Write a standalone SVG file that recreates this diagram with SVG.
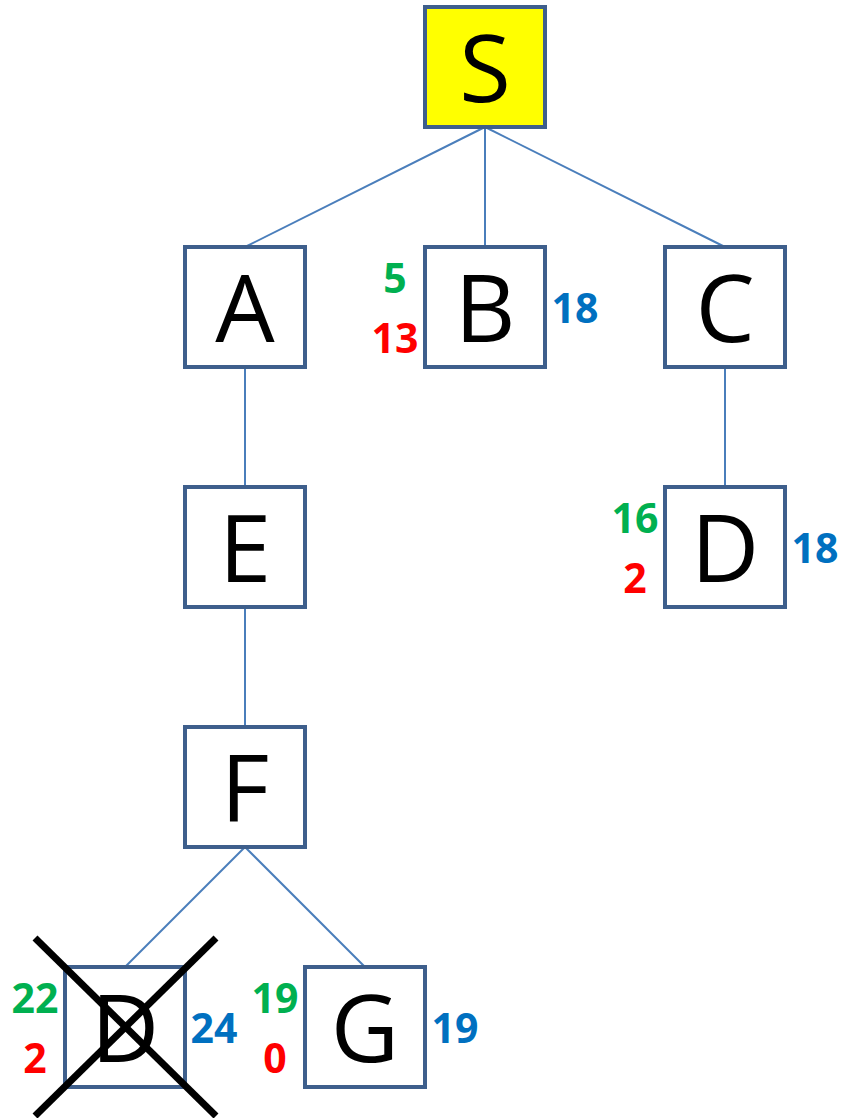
<svg xmlns="http://www.w3.org/2000/svg" width="841" height="1118" viewBox="0 0 841 1118">
<style>
.box{fill:#FFFFFF;stroke:#3E5F8C;stroke-width:4}
.start{fill:#FFFF00}
.big{font-family:"Open Sans","Liberation Sans",sans-serif;font-size:94px;fill:#000;text-anchor:middle}
.num{font-family:"Open Sans","Liberation Sans",sans-serif;font-weight:bold;font-size:41px;text-anchor:middle}
.g{fill:#00B050}.r{fill:#FF0000}.b{fill:#0070C0}
.edge{stroke:#4A7EBB;stroke-width:2;fill:none}
.cross{stroke:#000;stroke-width:7}
</style>
<rect width="841" height="1118" fill="#FFFFFF"/>
<g id="connectors">
<line class="edge" x1="485" y1="127" x2="245" y2="247"/>
<line class="edge" x1="485" y1="127" x2="485" y2="247"/>
<line class="edge" x1="485" y1="127" x2="725" y2="247"/>
<line class="edge" x1="245" y1="367" x2="245" y2="487"/>
<line class="edge" x1="245" y1="607" x2="245" y2="727"/>
<line class="edge" x1="725" y1="367" x2="725" y2="487"/>
<line class="edge" x1="245" y1="847" x2="125" y2="967"/>
<line class="edge" x1="245" y1="847" x2="365" y2="967"/>
</g>
<g id="node-S">
<rect class="box start" x="425" y="7" width="120" height="120"/>
<text class="big" x="485" y="102">S</text>
</g>
<g id="node-A">
<rect class="box" x="185" y="247" width="120" height="120"/>
<text class="big" x="245" y="342">A</text>
</g>
<g id="node-B">
<rect class="box" x="425" y="247" width="120" height="120"/>
<text class="big" x="485" y="342">B</text>
<text class="num g" x="395" y="293">5</text>
<text class="num r" x="395" y="353">13</text>
<text class="num b" x="575" y="323">18</text>
</g>
<g id="node-C">
<rect class="box" x="665" y="247" width="120" height="120"/>
<text class="big" x="725" y="342">C</text>
</g>
<g id="node-E">
<rect class="box" x="185" y="487" width="120" height="120"/>
<text class="big" x="245" y="582">E</text>
</g>
<g id="node-D1">
<rect class="box" x="665" y="487" width="120" height="120"/>
<text class="big" x="725" y="582">D</text>
<text class="num g" x="635" y="533">16</text>
<text class="num r" x="635" y="593">2</text>
<text class="num b" x="815" y="563">18</text>
</g>
<g id="node-F">
<rect class="box" x="185" y="727" width="120" height="120"/>
<text class="big" x="245" y="822">F</text>
</g>
<g id="node-D2">
<rect class="box" x="65" y="967" width="120" height="120"/>
<text class="big" x="125" y="1062">D</text>
<text class="num g" x="35" y="1013">22</text>
<text class="num r" x="35" y="1073">2</text>
<text class="num b" x="214" y="1043">24</text>
<line class="cross" x1="35" y1="938" x2="216" y2="1116"/>
<line class="cross" x1="216" y1="938" x2="35" y2="1116"/>
</g>
<g id="node-G">
<rect class="box" x="305" y="967" width="120" height="120"/>
<text class="big" x="365" y="1062">G</text>
<text class="num g" x="275" y="1013">19</text>
<text class="num r" x="275" y="1073">0</text>
<text class="num b" x="455" y="1043">19</text>
</g>
</svg>
